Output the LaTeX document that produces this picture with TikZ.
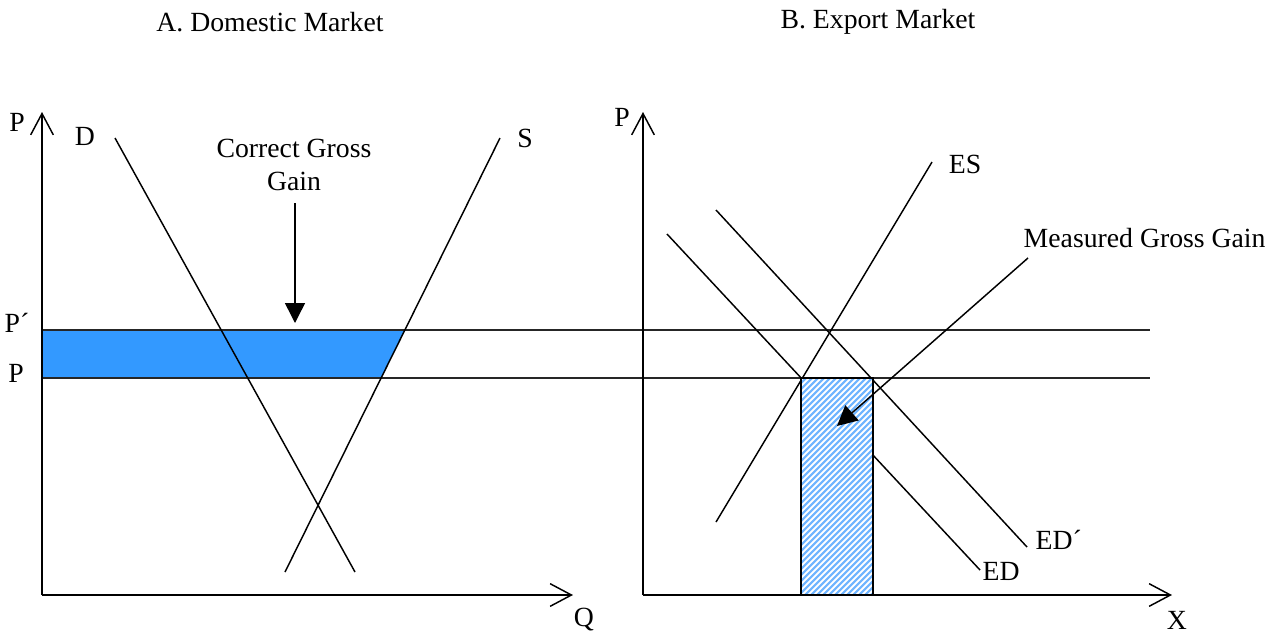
\documentclass[tikz,border=0pt]{standalone}
\usepackage{fontspec}
\setmainfont{Liberation Serif}
\usetikzlibrary{arrows.meta}
\definecolor{gainblue}{RGB}{51,153,255}
\definecolor{hatchblue}{RGB}{110,180,255}
\begin{document}
\begin{tikzpicture}[x=0.75pt,y=-0.75pt,line width=1.1pt,
  lbl/.style={font=\fontsize{20.8}{25}\selectfont,inner sep=0pt},
  axisline/.style={-{Straight Barb[length=16pt,width=17pt,line width=1.1pt]}},
  gainarrow/.style={-{Triangle[length=15pt,width=15pt]}},
  pline/.style={line width=1pt,black!85},
  hatch/.style={line width=1.6pt,hatchblue}]
\useasboundingbox (0,0) rectangle (1272,633);
% ---------- titles
\node[lbl] (titleA) at (270,22) {A. Domestic Market};
\node[lbl] (titleB) at (878,22) {B. Export Market};
% ---------- coordinates
\coordinate (oA) at (42,595);
\coordinate (yA) at (42,112);
\coordinate (xA) at (573,595);
\coordinate (oB) at (643,595);
\coordinate (yB) at (643,112);
\coordinate (xB) at (1172,595);
\coordinate (ppL) at (42,330);
\coordinate (ppR) at (1150,330);
\coordinate (pL) at (42,378);
\coordinate (pR) at (1150,378);
\coordinate (Dtop) at (115,138);
\coordinate (Dbot) at (355,572);
\coordinate (Sbot) at (285,572);
\coordinate (Stop) at (500,138);
\coordinate (Spp) at (405,330);
\coordinate (Sp) at (381,378);
\coordinate (ESbot) at (716,522);
\coordinate (EStop) at (932,162);
\coordinate (EDtop) at (667,234);
\coordinate (EDbot) at (980,570);
\coordinate (EDptop) at (716,210);
\coordinate (EDpbot) at (1027,547);
\coordinate (rBL) at (801,595);
\coordinate (rTR) at (873,378);
% ---------- blue area (correct gross gain)
\fill[gainblue] (ppL) -- (Spp) -- (Sp) -- (pL) -- cycle;
% ---------- price lines
\draw[pline] (ppL) -- (ppR);
\draw[pline] (pL) -- (pR);
% ---------- axes
\draw[axisline] (oA) -- (yA);
\draw[axisline] (oA) -- (xA);
\draw[axisline] (oB) -- (yB);
\draw[axisline] (oB) -- (xB);
% ---------- domestic curves
\draw (Dtop) -- (Dbot);
\draw (Sbot) -- (Stop);
% ---------- export curves
\draw (ESbot) -- (EStop);
\draw (EDtop) -- (EDbot);
\draw (EDptop) -- (EDpbot);
% ---------- measured gain rectangle
\fill[white] (rBL) rectangle (rTR);
\begin{scope}
  \clip (rBL) rectangle (rTR);
  \foreach \k in {0,...,60} {
    \draw[hatch] ({560+6*\k},600) -- ({560+6*\k+230},370);
  }
\end{scope}
\draw (rBL) rectangle (rTR);
% ---------- labels
\node[lbl] (lPA) at (17,122) {P};
\node[lbl] (lD) at (85,136) {D};
\node[lbl] (lS) at (525,138) {S};
\node[lbl] (lPp) at (17,323) {P´};
\node[lbl] (lP) at (16,373) {P};
\node[lbl] (lQ) at (584,620) {Q};
\node[lbl] (lPB) at (622,117) {P};
\node[lbl] (lES) at (965,164) {ES};
\node[lbl,anchor=west] (lEDp) at (1035,540) {ED´};
\node[lbl,anchor=west] (lED) at (982,571) {ED};
\node[lbl] (lX) at (1177,620) {X};
\node[lbl,align=center] (cgg) at (294,165) {Correct Gross\\Gain};
\node[lbl,anchor=west] (mgg) at (1023,238) {Measured Gross Gain};
% ---------- gain arrows
\coordinate (cggS) at (295,203);
\coordinate (cggT) at (295,323);
\coordinate (mggS) at (1028,258);
\coordinate (mggT) at (837,426);
\draw[gainarrow] (cggS) -- (cggT);
\draw[gainarrow] (mggS) -- (mggT);
\end{tikzpicture}
\end{document}
